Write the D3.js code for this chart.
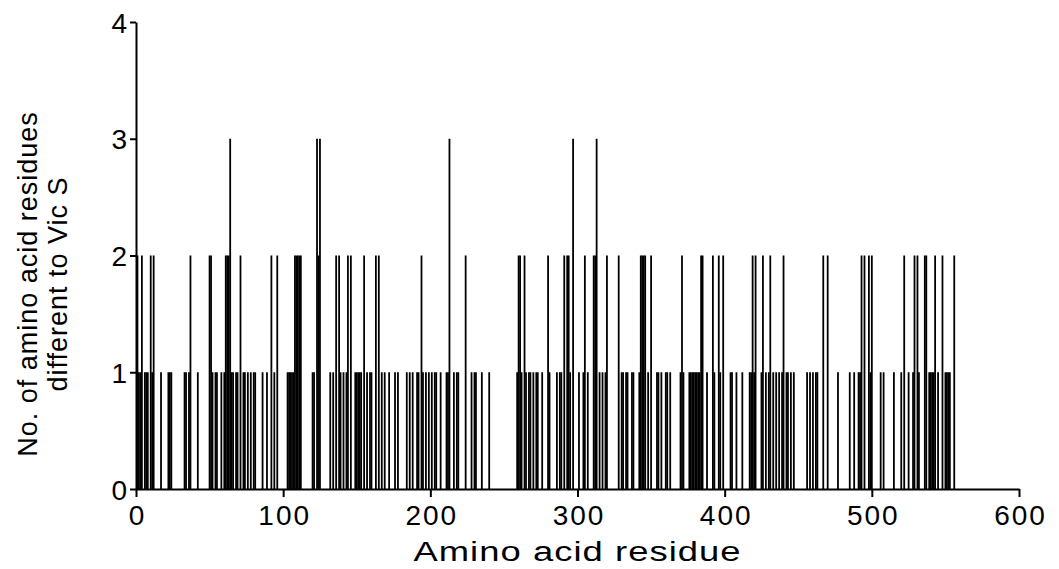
<!DOCTYPE html>
<html>
<head>
<meta charset="utf-8">
<script src="https://cdn.jsdelivr.net/npm/d3@7"></script>
<style>
  html, body { margin: 0; padding: 0; background: #fff; }
  svg { display: block; }
  text { font-family: "Liberation Sans", Arial, sans-serif; fill: #000; }
</style>
</head>
<body>
<svg id="chart" width="1059" height="569"></svg>
<script>
// Residue positions with at least one substitution, and how many sequences differ there
const residues = [
  1, 2, 3, 4, 6, 7, 8, 10, 11, 12, 17, 22, 23, 24, 33, 34, 36, 37, 42, 50, 51, 52, 54, 55, 58, 60,
  61, 62, 63, 64, 65, 66, 68, 69, 71, 73, 74, 76, 78, 80, 81, 86, 89, 92, 94, 96,
  103, 104, 105, 106, 107, 108, 109, 110, 111, 112, 120, 121, 123, 124, 125,
  132, 134, 136, 138, 139, 141, 143, 144, 146, 149, 150, 151, 152, 153, 155, 157, 159, 160,
  163, 165, 167, 169, 172, 176, 178, 184, 186, 188, 191,
  192, 194, 195, 197, 199, 201, 203, 204, 207, 211, 212, 213, 216, 218, 219, 224, 228, 230, 231, 235, 240,
  259, 260, 261, 262, 264, 265, 267, 268, 270, 272, 273, 276, 280, 281, 286, 288, 289, 291, 293, 294,
  295, 297, 301, 304, 305, 307, 311, 312, 313, 315, 317, 319, 320,
  328, 330, 331, 333, 334, 337, 338, 342, 343, 344, 345, 346, 348, 350, 354, 355, 357, 360, 361, 363,
  370, 371, 372, 376, 377, 378, 379, 380, 381, 382, 383, 384, 385,
  388, 392, 393, 396, 397, 399, 404, 405, 408, 412, 417, 418, 419, 420, 421, 425, 426, 428, 430, 431,
  433, 435, 437, 439, 440, 442, 443, 445, 447,
  456, 458, 460, 462, 463, 467, 470, 477, 485, 488,
  491, 492, 493, 495, 498, 499, 500, 506, 508, 515, 520, 522, 525,
  528, 529, 531, 532, 536, 537, 539, 540, 541, 542, 543, 545, 548, 550, 551, 552, 553, 556
];
const differences = [
  2, 1, 1, 2, 1, 1, 1, 2, 1, 2, 1, 1, 1, 1, 1, 1, 1, 2, 1, 2, 2, 1, 1, 1, 1, 1,
  2, 2, 2, 3, 1, 1, 1, 1, 2, 1, 1, 1, 1, 1, 1, 1, 1, 2, 1, 2,
  1, 1, 1, 1, 1, 2, 2, 2, 2, 2, 1, 1, 3, 2, 3,
  1, 1, 2, 2, 1, 1, 1, 2, 2, 1, 1, 1, 1, 1, 2, 1, 1, 1,
  2, 2, 1, 1, 1, 1, 1, 1, 1, 1, 1,
  1, 2, 1, 1, 1, 1, 1, 1, 1, 1, 1, 3, 1, 1, 1, 2, 1, 1, 1, 1, 1,
  1, 2, 2, 1, 2, 1, 1, 1, 1, 1, 1, 1, 2, 1, 1, 1, 1, 2, 2, 2,
  1, 3, 1, 1, 2, 1, 2, 2, 3, 1, 1, 1, 2,
  2, 1, 1, 1, 1, 1, 1, 1, 2, 2, 2, 2, 1, 2, 1, 1, 1, 1, 1, 1,
  1, 2, 1, 1, 1, 1, 1, 1, 1, 1, 1, 2, 2,
  1, 2, 1, 2, 1, 2, 1, 1, 1, 1, 1, 1, 2, 1, 2, 1, 2, 1, 1, 2,
  1, 1, 1, 1, 2, 1, 1, 1, 1,
  1, 1, 1, 1, 1, 2, 2, 1, 1, 1,
  1, 1, 2, 2, 2, 1, 2, 1, 1, 1, 1, 2, 1,
  1, 2, 2, 1, 2, 2, 1, 1, 1, 1, 2, 1, 2, 1, 1, 1, 1, 2
];
const xTicks = [0, 100, 200, 300, 400, 500, 600];
const yTicks = [0, 1, 2, 3, 4];
const xTitle = "Amino acid residue";
const yTitleLines = ["No. of amino acid residues", "different to Vic S"];

const svg = d3.select("#chart");
const x = d3.scaleLinear().domain([0, 600]).range([136, 1019]);
const y = d3.scaleLinear().domain([0, 4]).range([489, 22]);

const data = residues.map((r, i) => ({ r, v: differences[i] }));

// one vertical spike per residue
svg.append("g")
  .selectAll("line")
  .data(data)
  .join("line")
  .attr("x1", d => x(d.r))
  .attr("x2", d => x(d.r))
  .attr("y1", y(0))
  .attr("y2", d => y(d.v))
  .attr("stroke", "#000")
  .attr("stroke-width", 1.8);

// axes
const xAxis = svg.append("g")
  .attr("transform", `translate(0,${y(0)})`)
  .call(d3.axisBottom(x).tickValues(xTicks).tickFormat(d3.format("d"))
    .tickSize(8).tickSizeOuter(0).tickPadding(8));
const yAxis = svg.append("g")
  .attr("transform", `translate(${x(0)},0)`)
  .call(d3.axisLeft(y).tickValues(yTicks).tickFormat(d3.format("d"))
    .tickSize(6).tickSizeOuter(0).tickPadding(3));

[xAxis, yAxis].forEach(g => {
  g.select(".domain").attr("stroke", "#000").attr("stroke-width", 2);
  g.selectAll(".tick line").attr("stroke", "#000").attr("stroke-width", 2);
  g.selectAll(".tick text")
    .attr("font-family", "'Liberation Sans', Arial, sans-serif")
    .attr("font-size", 28)
    .attr("fill", "#000");
});
xAxis.selectAll(".tick text").attr("letter-spacing", 2).attr("dx", 1);
yAxis.selectAll(".tick text").attr("dy", "0.36em");

// axis titles (wide lettering)
svg.append("text")
  .attr("transform", `translate(${x(300)},561) scale(1.3,1)`)
  .attr("text-anchor", "middle")
  .attr("font-size", 28)
  .attr("letter-spacing", 0.8)
  .text(xTitle);

svg.append("g")
  .attr("transform", "translate(0,284) rotate(-90)")
  .selectAll("text")
  .data(yTitleLines)
  .join("text")
  .attr("x", 0)
  .attr("y", (d, i) => 37 + i * 30)
  .attr("text-anchor", "middle")
  .attr("font-size", 27)
  .attr("letter-spacing", 1)
  .text(d => d);
</script>
</body>
</html>
